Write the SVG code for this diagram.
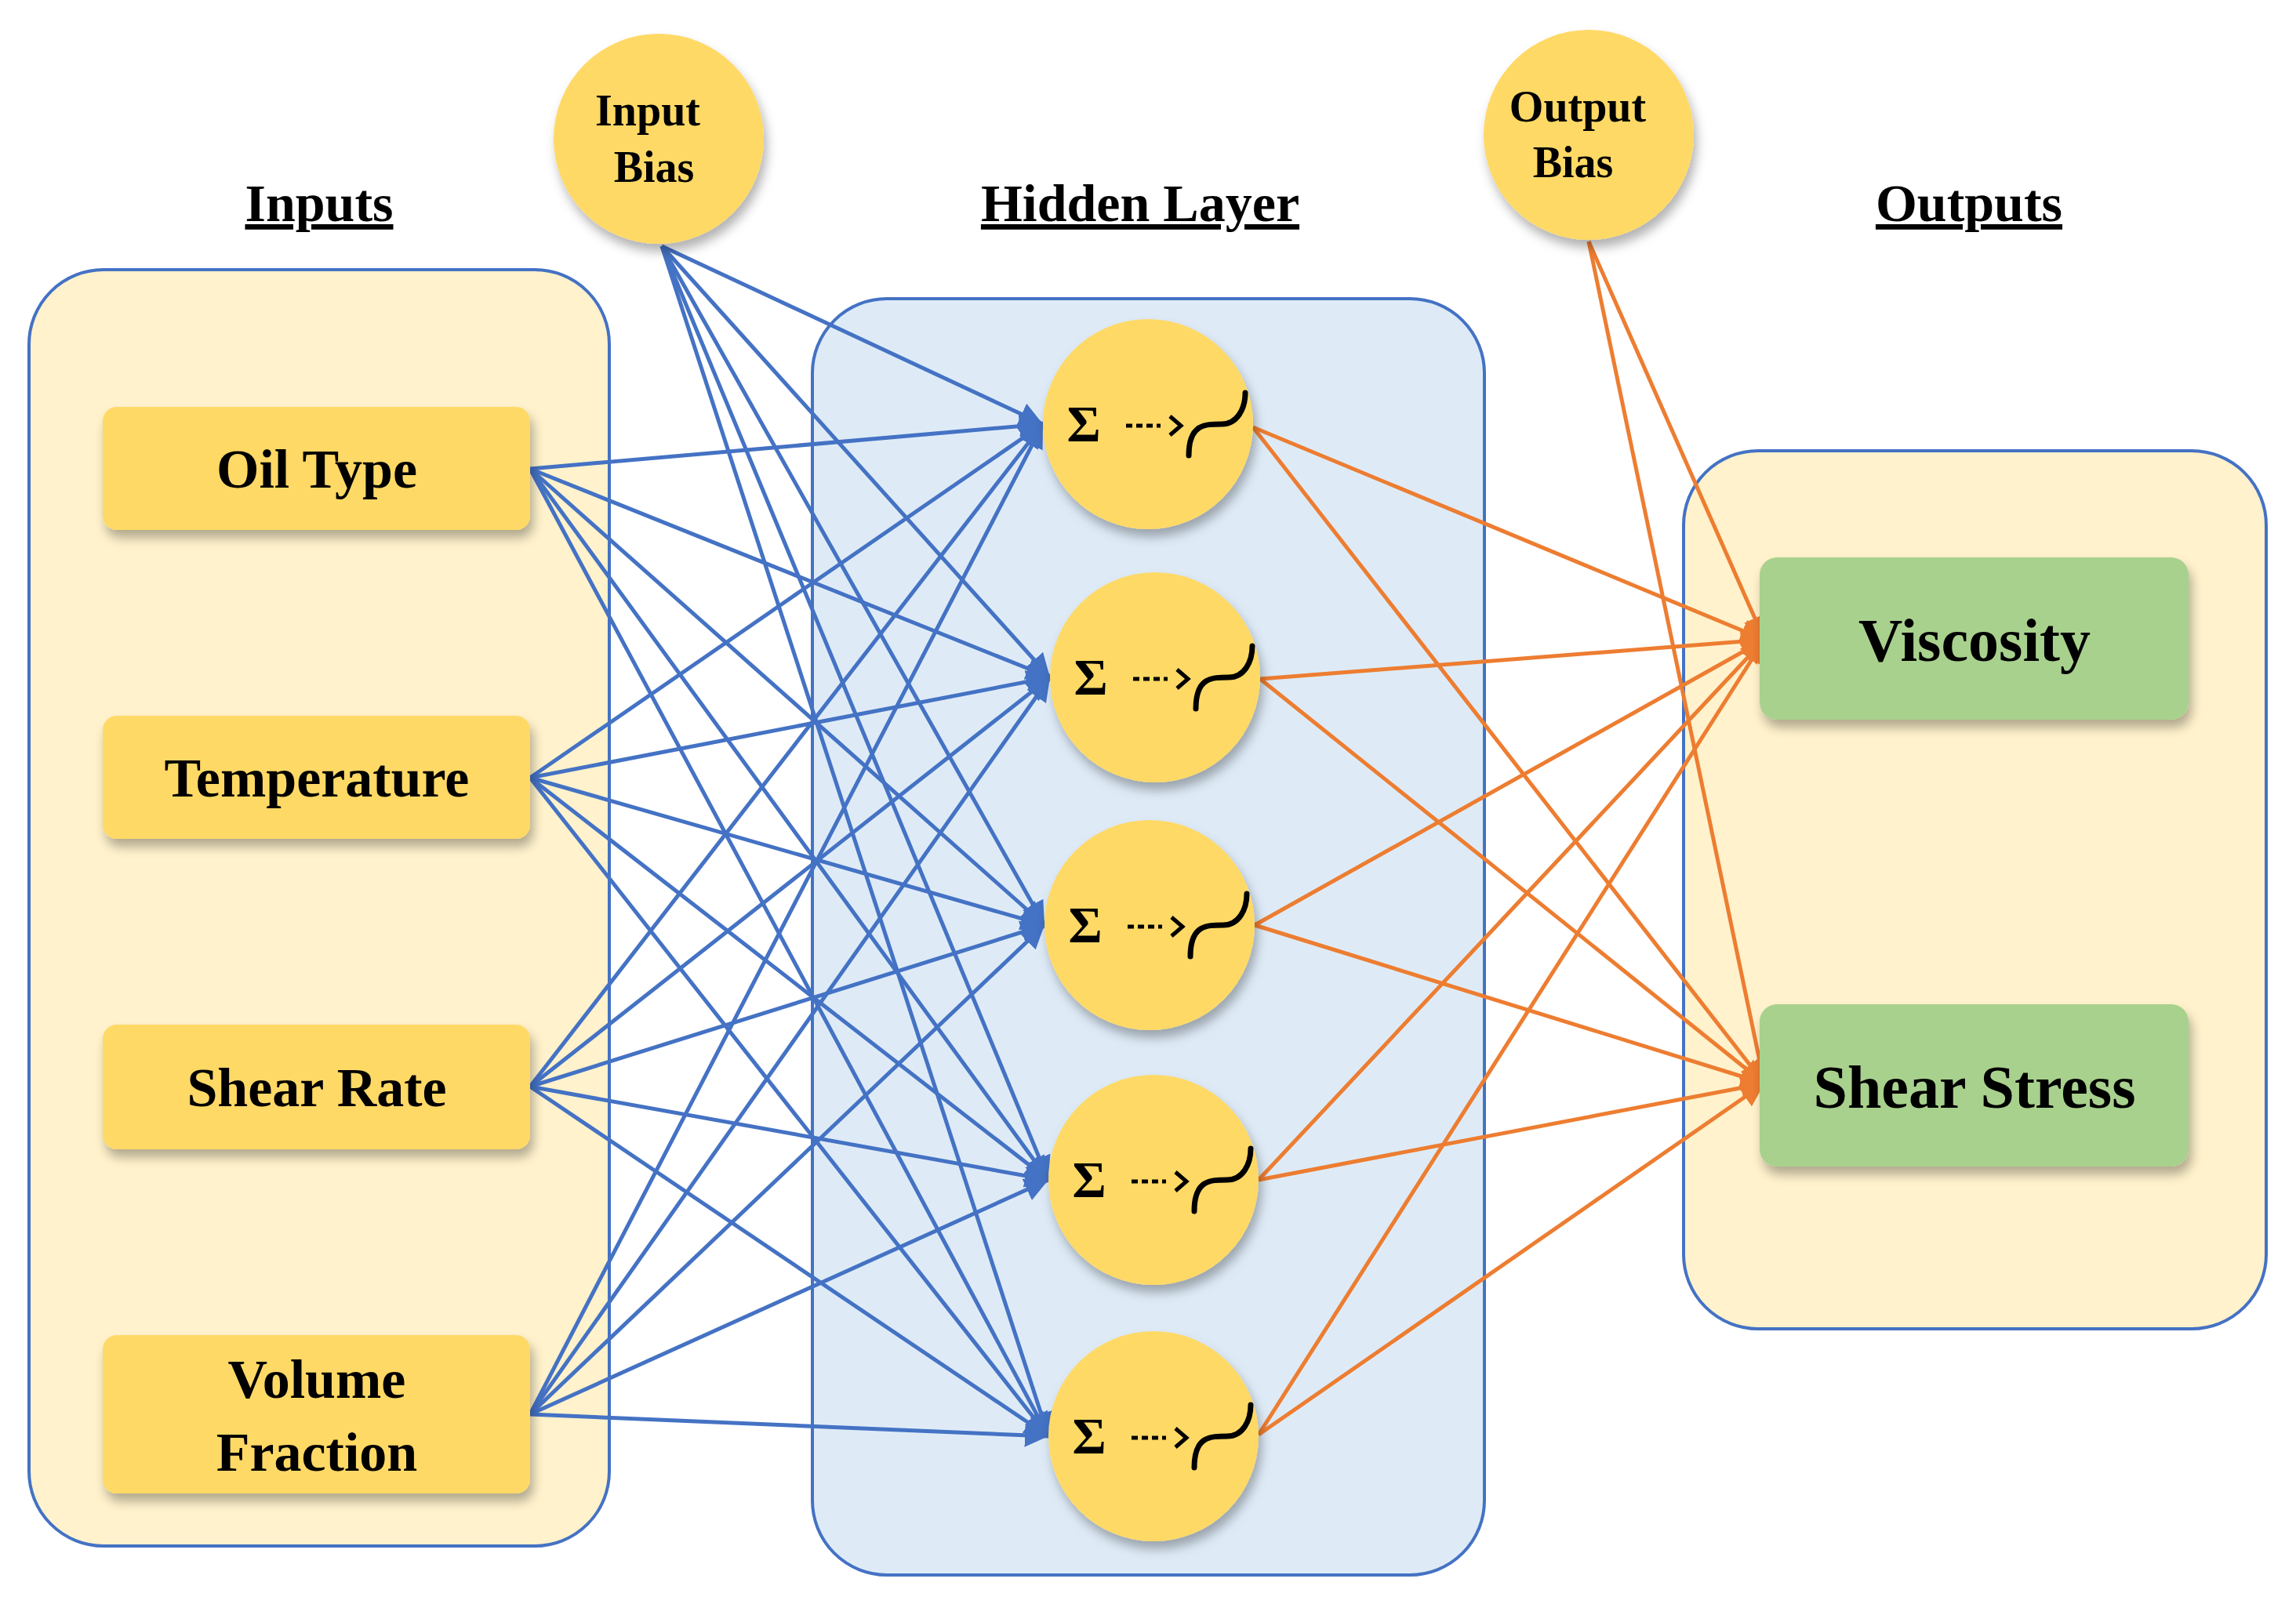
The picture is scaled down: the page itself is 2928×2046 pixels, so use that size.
<svg xmlns="http://www.w3.org/2000/svg" width="2928" height="2046" viewBox="0 0 2928 2046">
<defs>
<style>
.t{font-family:"Liberation Serif","Times New Roman",serif;font-weight:bold;fill:#000;text-anchor:middle}
.title{font-size:68px;text-decoration:underline}
.node{font-size:70px}
.bias{font-size:56px}
.b{stroke:#4472C4;stroke-width:5;fill:none;marker-end:url(#ab)}
.o{stroke:#ED7D31;stroke-width:5;fill:none;marker-end:url(#ao)}
.ybox{fill:#FFD966}
.gbox{fill:#A9D18E}
</style>
<marker id="ab" viewBox="0 0 10 10" refX="10" refY="5" markerWidth="6" markerHeight="6" orient="auto" markerUnits="strokeWidth"><path d="M0,0L10,5L0,10z" fill="#4472C4"/></marker>
<marker id="ao" viewBox="0 0 10 10" refX="10" refY="5" markerWidth="6" markerHeight="6" orient="auto" markerUnits="strokeWidth"><path d="M0,0L10,5L0,10z" fill="#ED7D31"/></marker>
<filter id="sh" x="-20%" y="-20%" width="140%" height="150%"><feDropShadow dx="4" dy="10" stdDeviation="7" flood-color="#000" flood-opacity="0.3"/></filter>
<g id="neuron"><text x="-82" y="22" class="t" style="font-size:66px">Σ</text><path d="M-28,2h44" stroke="#000" stroke-width="5" stroke-dasharray="8,5"/><path d="M28,-10l14,12l-14,12" stroke="#000" stroke-width="5" fill="none"/><path d="M52,40c0,-40 20,-40 42,-40c20,0 30,-20 30,-40" stroke="#000" stroke-width="7" fill="none" stroke-linecap="round"/></g>
</defs>
<rect width="2928" height="2046" fill="#fff"/>
<g id="containers">
<rect x="37" y="344" width="740" height="1628" rx="95" fill="#FFF2CC" stroke="#4472C4" stroke-width="4"/>
<rect x="1036" y="381" width="857" height="1628" rx="95" fill="#DEEBF7" stroke="#4472C4" stroke-width="4"/>
<rect x="2147" y="575" width="743" height="1120" rx="95" fill="#FFF2CC" stroke="#4472C4" stroke-width="4"/>
</g>
<g id="titles">
<text x="407" y="282" class="t title">Inputs</text>
<text x="1454" y="282" class="t title">Hidden Layer</text>
<text x="2511" y="282" class="t title">Outputs</text>
</g>
<g id="connectors">
<!-- input bias -->
<path class="b" d="M844,314L1330,541"/><path class="b" d="M844,314L1339,864"/><path class="b" d="M844,314L1332,1180"/><path class="b" d="M844,314L1337,1505"/><path class="b" d="M844,314L1337,1832"/>
<path class="b" d="M676,598L1330,541"/><path class="b" d="M676,598L1339,864"/><path class="b" d="M676,598L1332,1180"/><path class="b" d="M676,598L1337,1505"/><path class="b" d="M676,598L1337,1832"/>
<path class="b" d="M676,992L1330,541"/><path class="b" d="M676,992L1339,864"/><path class="b" d="M676,992L1332,1180"/><path class="b" d="M676,992L1337,1505"/><path class="b" d="M676,992L1337,1832"/>
<path class="b" d="M676,1386L1330,541"/><path class="b" d="M676,1386L1339,864"/><path class="b" d="M676,1386L1332,1180"/><path class="b" d="M676,1386L1337,1505"/><path class="b" d="M676,1386L1337,1832"/>
<path class="b" d="M676,1804L1330,541"/><path class="b" d="M676,1804L1339,864"/><path class="b" d="M676,1804L1332,1180"/><path class="b" d="M676,1804L1337,1505"/><path class="b" d="M676,1804L1337,1832"/>
<!-- hidden to outputs -->
<path class="o" d="M1598,545L2250,816"/><path class="o" d="M1598,545L2250,1382"/>
<path class="o" d="M1607,866L2250,816"/><path class="o" d="M1607,866L2250,1382"/>
<path class="o" d="M1600,1180L2250,816"/><path class="o" d="M1600,1180L2250,1382"/>
<path class="o" d="M1605,1505L2250,816"/><path class="o" d="M1605,1505L2250,1382"/>
<path class="o" d="M1605,1830L2250,816"/><path class="o" d="M1605,1830L2250,1382"/>
<path class="o" d="M2026,308L2250,816"/><path class="o" d="M2026,308L2250,1382"/>
</g>
<g id="input-bias" filter="url(#sh)"><circle cx="840" cy="177" r="134" class="ybox"/><text x="826" y="160" class="t bias">Input</text><text x="834" y="232" class="t bias">Bias</text></g>
<g id="output-bias" filter="url(#sh)"><circle cx="2026" cy="172" r="134" class="ybox"/><text x="2012" y="155" class="t bias">Output</text><text x="2006" y="226" class="t bias">Bias</text></g>
<g id="oil-type" filter="url(#sh)"><rect x="131" y="519" width="545" height="157" rx="18" class="ybox"/><text x="404" y="622" class="t node">Oil Type</text></g>
<g id="temperature" filter="url(#sh)"><rect x="131" y="913" width="545" height="157" rx="18" class="ybox"/><text x="404" y="1016" class="t node">Temperature</text></g>
<g id="shear-rate" filter="url(#sh)"><rect x="131" y="1307" width="545" height="159" rx="18" class="ybox"/><text x="404" y="1411" class="t node">Shear Rate</text></g>
<g id="volume-fraction" filter="url(#sh)"><rect x="131" y="1703" width="545" height="202" rx="18" class="ybox"/><text x="404" y="1783" class="t node">Volume</text><text x="404" y="1876" class="t node">Fraction</text></g>
<g id="h1"><circle cx="1464" cy="541" r="134" class="ybox" filter="url(#sh)"/><use href="#neuron" x="1464" y="541"/></g>
<g id="h2"><circle cx="1473" cy="864" r="134" class="ybox" filter="url(#sh)"/><use href="#neuron" x="1473" y="864"/></g>
<g id="h3"><circle cx="1466" cy="1180" r="134" class="ybox" filter="url(#sh)"/><use href="#neuron" x="1466" y="1180"/></g>
<g id="h4"><circle cx="1471" cy="1505" r="134" class="ybox" filter="url(#sh)"/><use href="#neuron" x="1471" y="1505"/></g>
<g id="h5"><circle cx="1471" cy="1832" r="134" class="ybox" filter="url(#sh)"/><use href="#neuron" x="1471" y="1832"/></g>
<g id="viscosity" filter="url(#sh)"><rect x="2244" y="711" width="547" height="207" rx="22" class="gbox"/><text x="2518" y="843" class="t" style="font-size:78px">Viscosity</text></g>
<g id="shear-stress" filter="url(#sh)"><rect x="2244" y="1281" width="547" height="207" rx="22" class="gbox"/><text x="2518" y="1413" class="t" style="font-size:78px">Shear Stress</text></g>
</svg>
